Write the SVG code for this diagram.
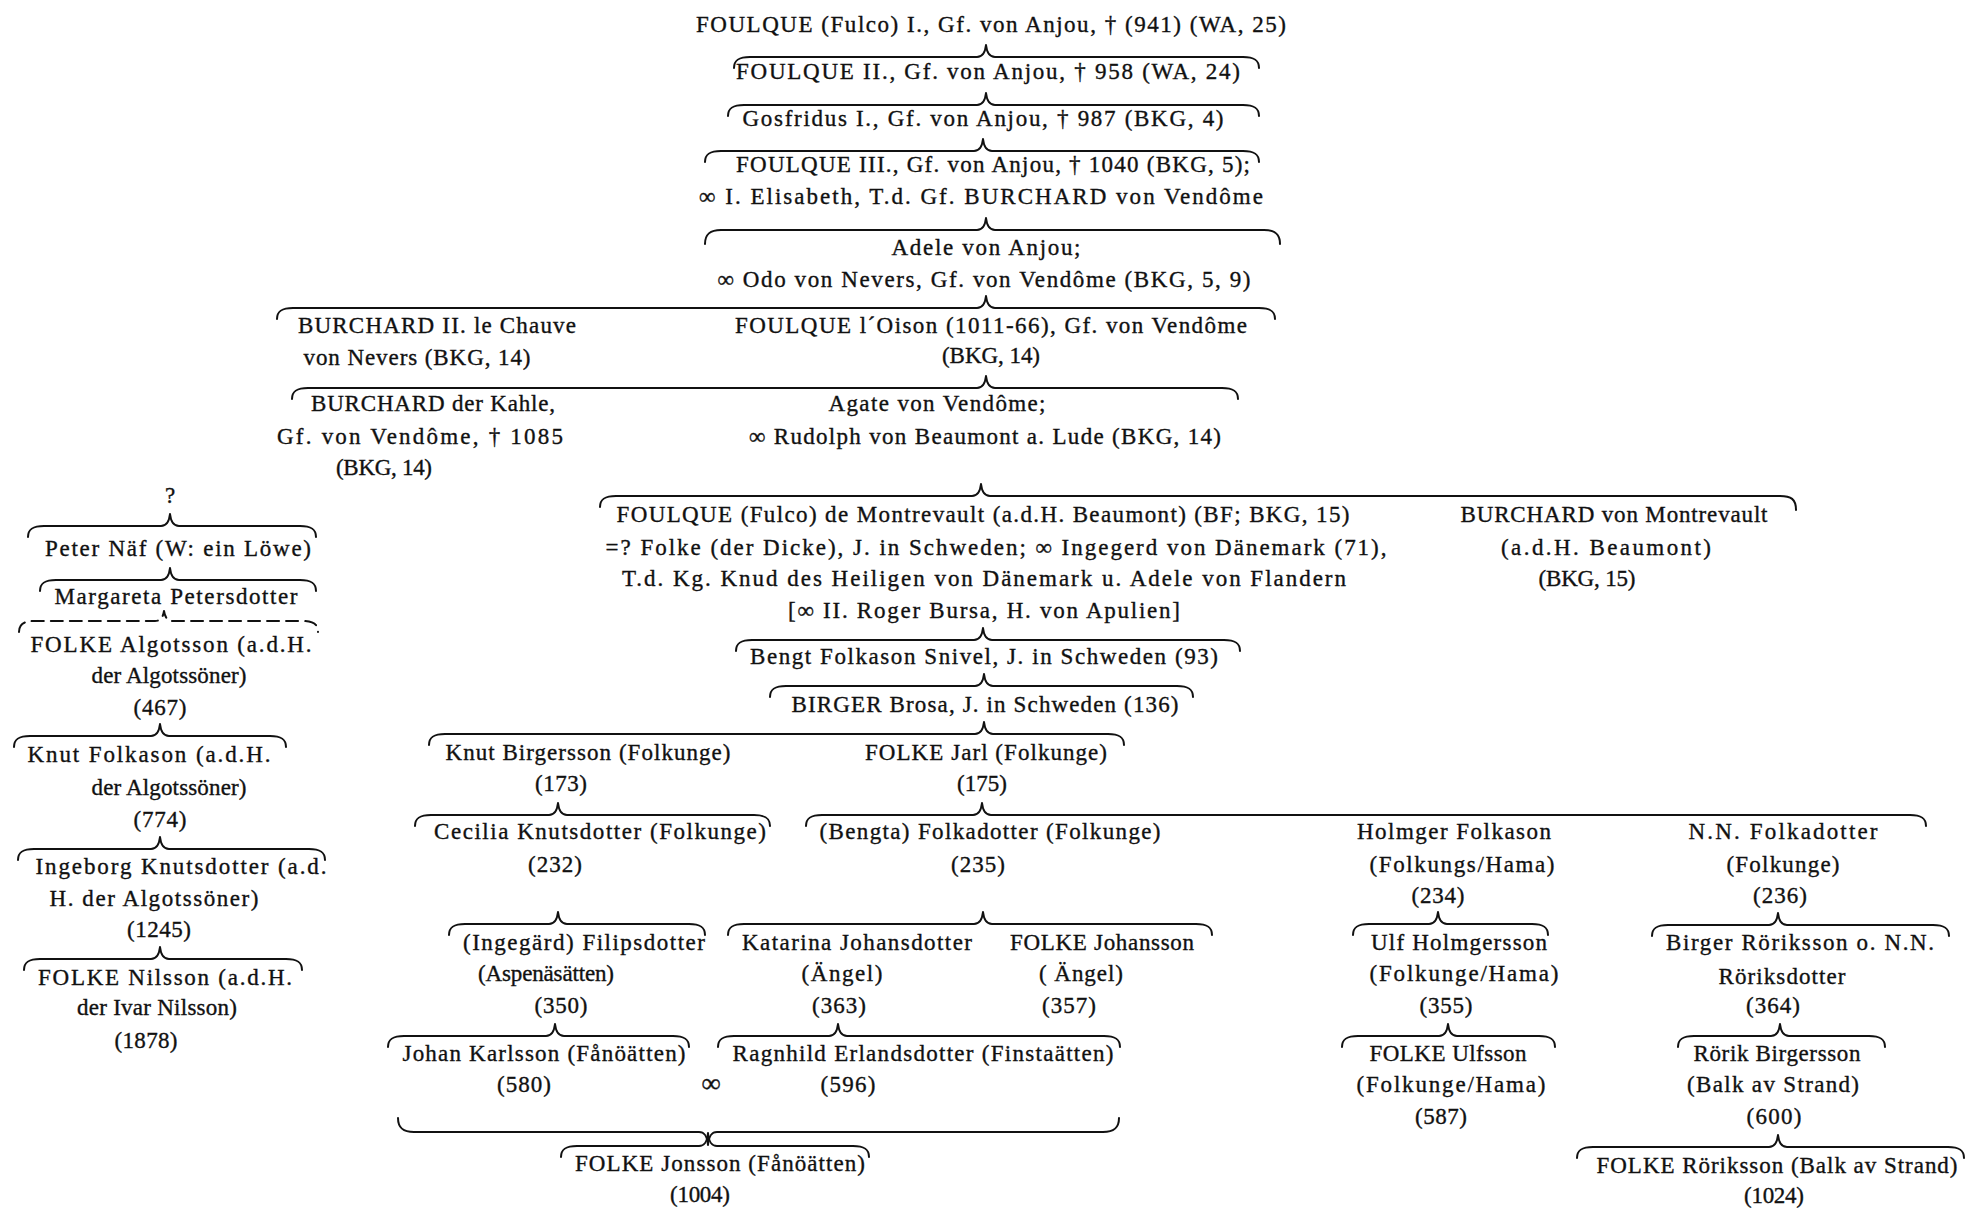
<svg xmlns="http://www.w3.org/2000/svg" width="1974" height="1208" viewBox="0 0 1974 1208">
<style>
text{font-family:"Liberation Serif","Times New Roman",serif;font-size:23px;fill:#111;stroke:#111;stroke-width:0.35;text-anchor:middle}
.b{fill:none;stroke:#111;stroke-width:2;stroke-linecap:round;stroke-linejoin:round}
.d{stroke-dasharray:12 7}
.inf{font-size:27px}
</style>
<rect width="1974" height="1208" fill="#fff"/>
<g id="connectors">
<path class="b" d="M734,68 C734,60 739,57 750,57 L977,57 C982,57 985,54 986,45 C987,54 990,57 995,57 L1243,57 C1254,57 1259,60 1259,68"/>
<path class="b" d="M728,116 C728,108 733,105 744,105 L977,105 C982,105 985,102 986,93 C987,102 990,105 995,105 L1243,105 C1254,105 1259,108 1259,116"/>
<path class="b" d="M705,162 C705,154 710,151 721,151 L974,151 C979,151 982,148 983,139 C984,148 987,151 992,151 L1243,151 C1254,151 1259,154 1259,162"/>
<path class="b" d="M705,244 C705,234 710,230 721,230 L977,230 C982,230 985,227 986,218 C987,227 990,230 995,230 L1264,230 C1275,230 1280,234 1280,244"/>
<path class="b" d="M277,319 C277,311 282,308 293,308 L977,308 C982,308 985,305 986,296 C987,305 990,308 995,308 L1259,308 C1270,308 1275,311 1275,319"/>
<path class="b" d="M292,399 C292,391 297,388 308,388 L977,388 C982,388 985,385 986,376 C987,385 990,388 995,388 L1222,388 C1233,388 1238,391 1238,399"/>
<path class="b" d="M600,507 C600,499 605,496 616,496 L972,496 C977,496 980,493 981,484 C982,493 985,496 990,496 L1780,496 C1791,496 1796,499 1796,510"/>
<path class="b" d="M736,651 C736,643 741,640 752,640 L974,640 C979,640 982,637 983,628 C984,637 987,640 992,640 L1224,640 C1235,640 1240,643 1240,651"/>
<path class="b" d="M770,697 C770,689 775,686 786,686 L975,686 C980,686 983,683 984,674 C985,683 988,686 993,686 L1177,686 C1188,686 1193,689 1193,697"/>
<path class="b" d="M429,745 C429,737 434,734 445,734 L975,734 C980,734 983,731 984,722 C985,731 988,734 993,734 L1108,734 C1119,734 1124,737 1124,745"/>
<path class="b" d="M415,826 C415,818 420,815 431,815 L549,815 C554,815 557,812 558,803 C559,812 562,815 567,815 L754,815 C765,815 770,818 770,826"/>
<path class="b" d="M806,826 C806,818 811,815 822,815 L973,815 C978,815 981,812 982,803 C983,812 986,815 991,815 L1910,815 C1921,815 1926,818 1926,826"/>
<path class="b" d="M449,935 C449,927 454,924 465,924 L549,924 C554,924 557,921 558,912 C559,921 562,924 567,924 L689,924 C700,924 705,927 705,935"/>
<path class="b" d="M728,935 C728,927 733,924 744,924 L974,924 C979,924 982,921 983,912 C984,921 987,924 992,924 L1196,924 C1207,924 1212,927 1212,935"/>
<path class="b" d="M1353,935 C1353,927 1358,924 1369,924 L1429,924 C1434,924 1437,921 1438,912 C1439,921 1442,924 1447,924 L1532,924 C1543,924 1548,927 1548,935"/>
<path class="b" d="M1652,936 C1652,928 1657,925 1668,925 L1769,925 C1774,925 1777,922 1778,913 C1779,922 1782,925 1787,925 L1933,925 C1944,925 1949,928 1949,936"/>
<path class="b" d="M388,1047 C388,1039 393,1036 404,1036 L546,1036 C551,1036 554,1033 555,1024 C556,1033 559,1036 564,1036 L673,1036 C684,1036 689,1039 689,1047"/>
<path class="b" d="M718,1047 C718,1039 723,1036 734,1036 L829,1036 C834,1036 837,1033 838,1024 C839,1033 842,1036 847,1036 L1104,1036 C1115,1036 1120,1039 1120,1047"/>
<path class="b" d="M1342,1047 C1342,1039 1347,1036 1358,1036 L1439,1036 C1444,1036 1447,1033 1448,1024 C1449,1033 1452,1036 1457,1036 L1539,1036 C1550,1036 1555,1039 1555,1047"/>
<path class="b" d="M1678,1047 C1678,1039 1683,1036 1694,1036 L1771,1036 C1776,1036 1779,1033 1780,1024 C1781,1033 1784,1036 1789,1036 L1869,1036 C1880,1036 1885,1039 1885,1047"/>
<path class="b" d="M398,1118 C398,1128 403,1132 414,1132 L699,1132 C704,1132 707,1135 708,1145 C709,1135 712,1132 717,1132 L1103,1132 C1114,1132 1119,1128 1119,1118"/>
<path class="b" d="M561,1157 C561,1149 566,1146 577,1146 L699,1146 C704,1146 707,1143 708,1133 C709,1143 712,1146 717,1146 L853,1146 C864,1146 869,1149 869,1157"/>
<path class="b" d="M1577,1158 C1577,1150 1582,1147 1593,1147 L1769,1147 C1774,1147 1777,1144 1778,1135 C1779,1144 1782,1147 1787,1147 L1948,1147 C1959,1147 1964,1150 1964,1158"/>
<path class="b" d="M28,537 C28,529 33,526 44,526 L161,526 C166,526 169,523 170,514 C171,523 174,526 179,526 L300,526 C311,526 316,529 316,537"/>
<path class="b" d="M40,591 C40,583 45,580 56,580 L161,580 C166,580 169,577 170,568 C171,577 174,580 179,580 L300,580 C311,580 316,583 316,591"/>
<path class="b d" d="M19,632 C19,624 24,621 35,621 L155,621 C160,621 163,618 164,611 C165,618 168,621 173,621 L302,621 C313,621 318,624 318,632"/>
<path class="b" d="M14,747 C14,739 19,736 30,736 L151,736 C156,736 159,733 160,724 C161,733 164,736 169,736 L270,736 C281,736 286,739 286,747"/>
<path class="b" d="M18,860 C18,852 23,849 34,849 L151,849 C156,849 159,846 160,837 C161,846 164,849 169,849 L309,849 C320,849 325,852 325,860"/>
<path class="b" d="M24,970 C24,962 29,959 40,959 L151,959 C156,959 159,956 160,947 C161,956 164,959 169,959 L286,959 C297,959 302,962 302,970"/>
</g>
<g id="n-foulque1"><text x="991" y="32" textLength="590">FOULQUE (Fulco) I., Gf. von Anjou, † (941) (WA, 25)</text></g>
<g id="n-foulque2"><text x="988" y="79" textLength="504">FOULQUE II., Gf. von Anjou, † 958 (WA, 24)</text></g>
<g id="n-gosfridus"><text x="983" y="126" textLength="481">Gosfridus I., Gf. von Anjou, † 987 (BKG, 4)</text></g>
<g id="n-foulque3"><text x="993" y="172" textLength="514">FOULQUE III., Gf. von Anjou, † 1040 (BKG, 5);</text><text x="981" y="204" textLength="564">∞ I. Elisabeth, T.d. Gf. BURCHARD von Vendôme</text></g>
<g id="n-adele"><text x="986" y="255" textLength="189">Adele von Anjou;</text><text x="984" y="287" textLength="533">∞ Odo von Nevers, Gf. von Vendôme (BKG, 5, 9)</text></g>
<g id="n-burchard2"><text x="437" y="333" textLength="278">BURCHARD II. le Chauve</text><text x="417" y="365" textLength="227">von Nevers (BKG, 14)</text></g>
<g id="n-foulque-oison"><text x="991" y="333" textLength="512">FOULQUE l´Oison (1011-66), Gf. von Vendôme</text><text x="991" y="363" textLength="98">(BKG, 14)</text></g>
<g id="n-burchard-kahle"><text x="433" y="411" textLength="244">BURCHARD der Kahle,</text><text x="420" y="444" textLength="286">Gf. von Vendôme, † 1085</text><text x="384" y="475" textLength="96">(BKG, 14)</text></g>
<g id="n-agate"><text x="937" y="411" textLength="217">Agate von Vendôme;</text><text x="985" y="444" textLength="472">∞ Rudolph von Beaumont a. Lude (BKG, 14)</text></g>
<g id="n-foulque-montrevault"><text x="983" y="522" textLength="733">FOULQUE (Fulco) de Montrevault (a.d.H. Beaumont) (BF; BKG, 15)</text><text x="996" y="555" textLength="781">=? Folke (der Dicke), J. in Schweden; ∞ Ingegerd von Dänemark (71),</text><text x="984" y="586" textLength="724">T.d. Kg. Knud des Heiligen von Dänemark u. Adele von Flandern</text><text x="984" y="618" textLength="392">[∞ II. Roger Bursa, H. von Apulien]</text></g>
<g id="n-burchard-montrevault"><text x="1614" y="522" textLength="307">BURCHARD von Montrevault</text><text x="1606" y="555" textLength="210">(a.d.H. Beaumont)</text><text x="1587" y="586" textLength="97">(BKG, 15)</text></g>
<g id="n-bengt"><text x="984" y="664" textLength="468">Bengt Folkason Snivel, J. in Schweden (93)</text></g>
<g id="n-birger"><text x="985" y="712" textLength="387">BIRGER Brosa, J. in Schweden (136)</text></g>
<g id="n-knut-birgersson"><text x="588" y="760" textLength="285">Knut Birgersson (Folkunge)</text><text x="561" y="791" textLength="52">(173)</text></g>
<g id="n-folke-jarl"><text x="986" y="760" textLength="242">FOLKE Jarl (Folkunge)</text><text x="982" y="791" textLength="50">(175)</text></g>
<g id="n-cecilia"><text x="600" y="839" textLength="332">Cecilia Knutsdotter (Folkunge)</text><text x="555" y="872" textLength="54">(232)</text></g>
<g id="n-bengta"><text x="990" y="839" textLength="341">(Bengta) Folkadotter (Folkunge)</text><text x="978" y="872" textLength="54">(235)</text></g>
<g id="n-holmger"><text x="1454" y="839" textLength="194">Holmger Folkason</text><text x="1462" y="872" textLength="185">(Folkungs/Hama)</text><text x="1438" y="903" textLength="53">(234)</text></g>
<g id="n-nn-folkadotter"><text x="1783" y="839" textLength="189">N.N. Folkadotter</text><text x="1783" y="872" textLength="113">(Folkunge)</text><text x="1780" y="903" textLength="54">(236)</text></g>
<g id="n-ingegard"><text x="584" y="950" textLength="242">(Ingegärd) Filipsdotter</text><text x="546" y="981" textLength="136">(Aspenäsätten)</text><text x="561" y="1013" textLength="53">(350)</text></g>
<g id="n-katarina"><text x="857" y="950" textLength="230">Katarina Johansdotter</text><text x="842" y="981" textLength="81">(Ängel)</text><text x="839" y="1013" textLength="54">(363)</text></g>
<g id="n-folke-johansson"><text x="1102" y="950" textLength="184">FOLKE Johansson</text><text x="1081" y="981" textLength="84">( Ängel)</text><text x="1069" y="1013" textLength="54">(357)</text></g>
<g id="n-ulf"><text x="1459" y="950" textLength="176">Ulf Holmgersson</text><text x="1464" y="981" textLength="189">(Folkunge/Hama)</text><text x="1446" y="1013" textLength="53">(355)</text></g>
<g id="n-birger-roriksson"><text x="1800" y="950" textLength="268">Birger Röriksson o. N.N.</text><text x="1782" y="984" textLength="127">Röriksdotter</text><text x="1773" y="1013" textLength="54">(364)</text></g>
<g id="n-johan"><text x="544" y="1061" textLength="283">Johan Karlsson (Fånöätten)</text><text x="524" y="1092" textLength="54">(580)</text></g>
<g id="n-marriage"><text class="inf" x="711" y="1092">∞</text></g>
<g id="n-ragnhild"><text x="923" y="1061" textLength="381">Ragnhild Erlandsdotter (Finstaätten)</text><text x="848" y="1092" textLength="55">(596)</text></g>
<g id="n-folke-ulfsson"><text x="1448" y="1061" textLength="157">FOLKE Ulfsson</text><text x="1451" y="1092" textLength="189">(Folkunge/Hama)</text><text x="1441" y="1124" textLength="52">(587)</text></g>
<g id="n-rorik"><text x="1777" y="1061" textLength="167">Rörik Birgersson</text><text x="1773" y="1092" textLength="172">(Balk av Strand)</text><text x="1774" y="1124" textLength="55">(600)</text></g>
<g id="n-folke-jonsson"><text x="720" y="1171" textLength="290">FOLKE Jonsson (Fånöätten)</text><text x="700" y="1202" textLength="60">(1004)</text></g>
<g id="n-folke-roriksson"><text x="1777" y="1173" textLength="361">FOLKE Röriksson (Balk av Strand)</text><text x="1774" y="1203" textLength="60">(1024)</text></g>
<g id="n-unknown"><text x="170" y="503">?</text></g>
<g id="n-peter"><text x="178" y="556" textLength="266">Peter Näf (W: ein Löwe)</text></g>
<g id="n-margareta"><text x="176" y="604" textLength="243">Margareta Petersdotter</text></g>
<g id="n-folke-algotsson"><text x="171" y="652" textLength="281">FOLKE Algotsson (a.d.H.</text><text x="169" y="683" textLength="155">der Algotssöner)</text><text x="160" y="715" textLength="53">(467)</text></g>
<g id="n-knut-folkason"><text x="149" y="762" textLength="243">Knut Folkason (a.d.H.</text><text x="169" y="795" textLength="155">der Algotssöner)</text><text x="160" y="827" textLength="53">(774)</text></g>
<g id="n-ingeborg"><text x="181" y="874" textLength="291">Ingeborg Knutsdotter (a.d.</text><text x="154" y="906" textLength="209">H. der Algotssöner)</text><text x="159" y="937" textLength="64">(1245)</text></g>
<g id="n-folke-nilsson"><text x="165" y="985" textLength="254">FOLKE Nilsson (a.d.H.</text><text x="157" y="1015" textLength="160">der Ivar Nilsson)</text><text x="146" y="1048" textLength="63">(1878)</text></g>
</svg>
